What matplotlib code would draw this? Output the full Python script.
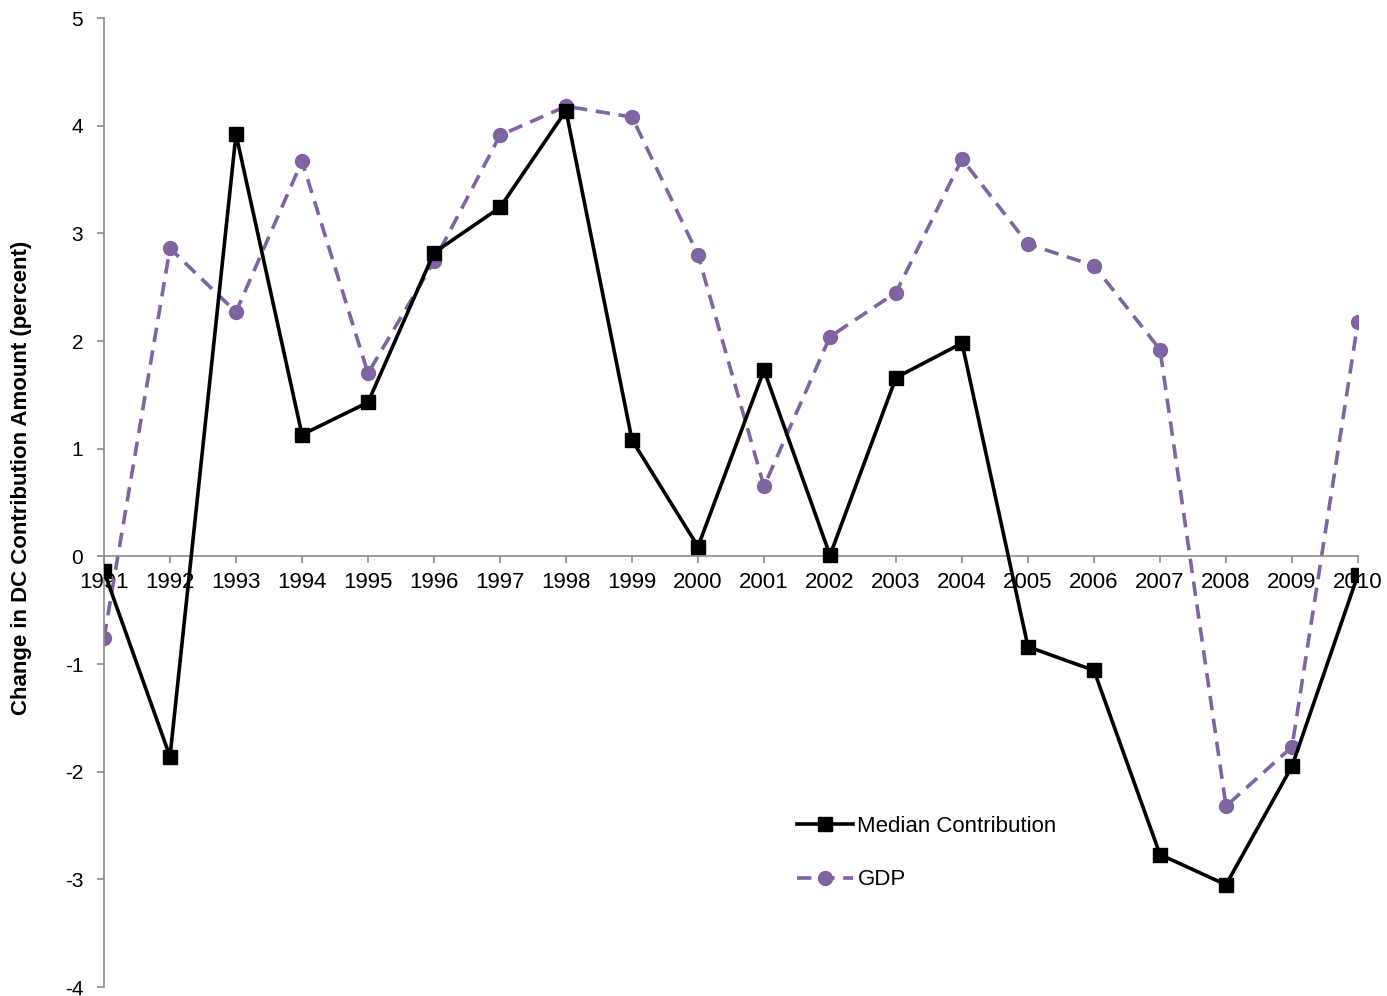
import matplotlib
matplotlib.use("Agg")
import matplotlib.pyplot as plt

years = list(range(1991, 2011))
median_contrib = [-0.14, -1.86, 3.92, 1.13, 1.43, 2.82, 3.24, 4.14, 1.08, 0.09,
                  1.73, 0.01, 1.66, 1.98, -0.84, -1.06, -2.77, -3.05, -1.95, -0.17]
gdp = [-0.76, 2.86, 2.27, 3.67, 1.70, 2.74, 3.91, 4.18, 4.08, 2.80,
       0.65, 2.04, 2.45, 3.69, 2.90, 2.70, 1.92, -2.32, -1.77, 2.18]

plt.rcParams['font.family'] = ['Liberation Sans', 'DejaVu Sans']
purple = "#8064A2"

fig = plt.figure(figsize=(13.87, 9.96), dpi=100)
ax = fig.add_axes([104 / 1387, 1 - 987 / 996, (1358 - 104) / 1387, (987 - 18) / 996])

ax.plot(years, median_contrib, "-", color="black", lw=2.6, marker="s", ms=10,
        label="Median Contribution", zorder=3)
ax.plot(years, gdp, "--", color=purple, lw=2.6, marker="o", ms=10, dashes=(4, 2.4),
        label="GDP", zorder=2)

for s in ("top", "right"):
    ax.spines[s].set_visible(False)
ax.spines["bottom"].set_position(("data", 0))
for s in ("bottom", "left"):
    ax.spines[s].set_color("#8c8c8c")
    ax.spines[s].set_linewidth(1.2)

ax.set_xlim(1991, 2010)
ax.set_ylim(-4, 5)
ax.set_xticks(years)
ax.set_xticklabels([str(y) for y in years])
ax.set_yticks(range(-4, 6))
ax.set_yticklabels([str(v) for v in range(-4, 6)])
ax.tick_params(axis="x", direction="out", length=5, width=1.2, color="#8c8c8c", pad=6, labelsize=16)
ax.tick_params(axis="y", direction="out", length=5, width=1.2, color="#8c8c8c", pad=10, labelsize=15)

ax.set_ylabel("Change in DC Contribution Amount (percent)", fontsize=16, fontweight="bold")
ax.yaxis.set_label_coords(-0.0574, 0.525)

ax.legend(loc="upper left", bbox_to_anchor=(0.537, 0.197), frameon=False, fontsize=16,
          handlelength=2.5, handletextpad=0.2, labelspacing=1.45)

fig.savefig("out.png", dpi=100)
